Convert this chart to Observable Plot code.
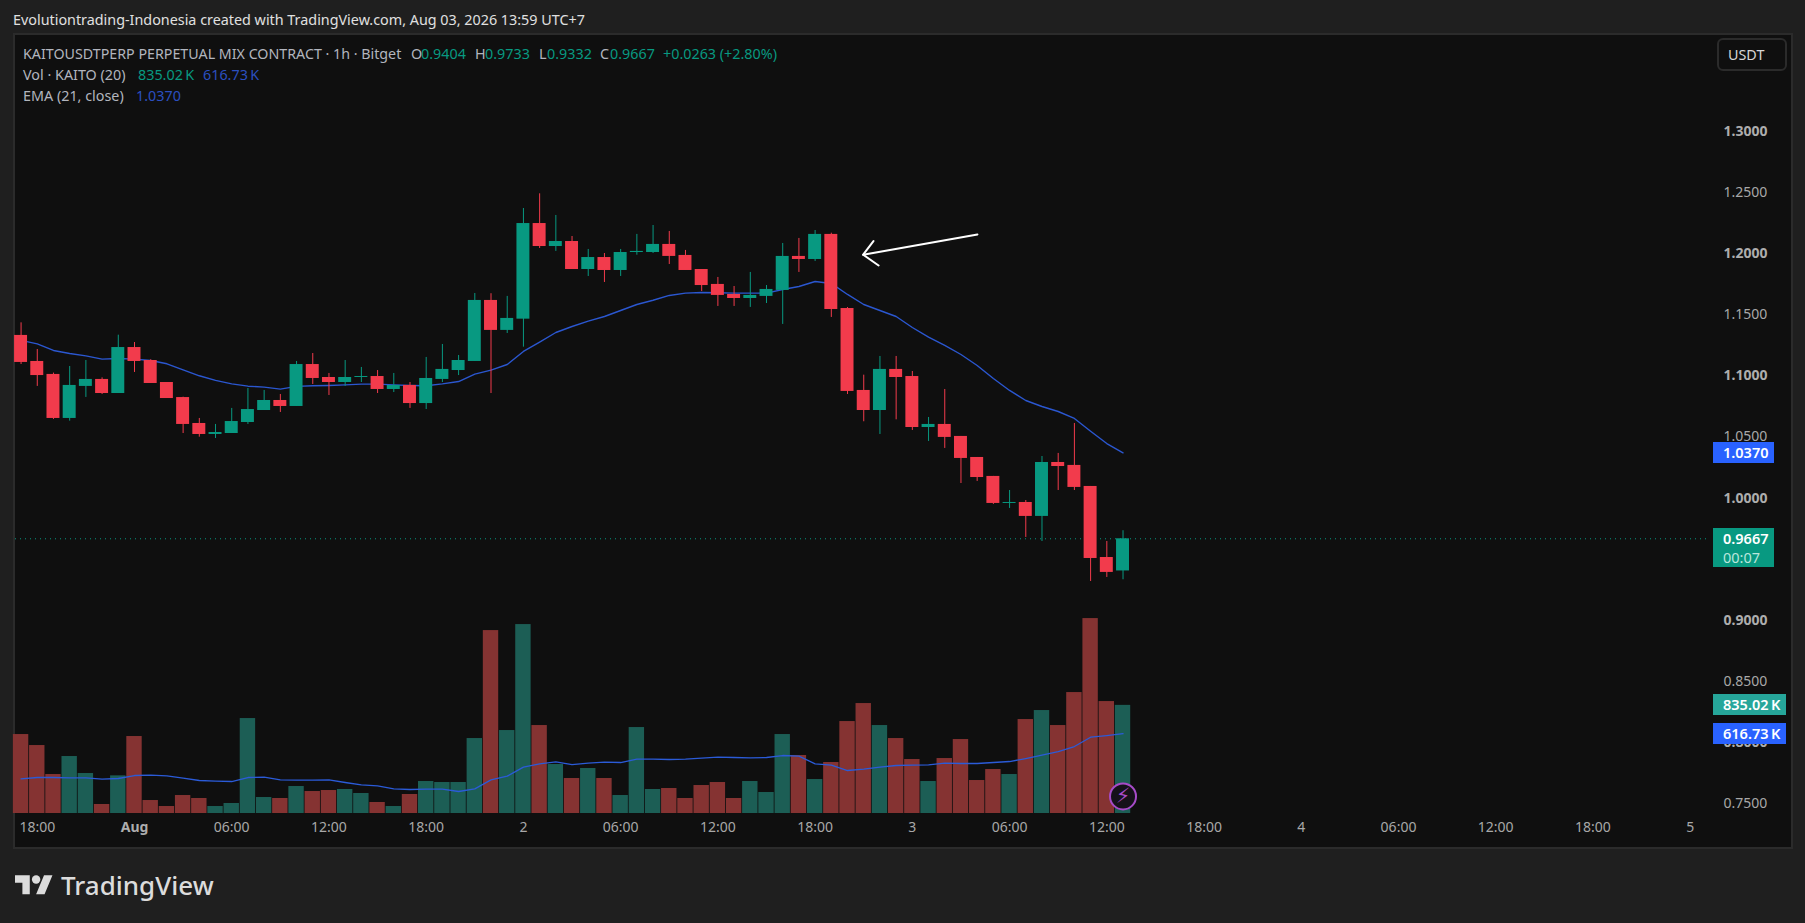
<!DOCTYPE html>
<html>
<head>
<meta charset="utf-8">
<script src="https://cdn.jsdelivr.net/npm/d3@7"></script>
<script src="https://cdn.jsdelivr.net/npm/@observablehq/plot@0.6"></script>
<style>
html,body{margin:0;padding:0;background:#1f1f1f;width:1805px;height:923px;overflow:hidden}
body{position:relative;font-family:"Noto Sans",sans-serif;font-size:14.35px;color:#b2b5be}
#panel{position:absolute;left:13px;top:33px;width:1776px;height:812px;background:#0f0f0f;border:2px solid #2b2b2b}
svg.layer{position:absolute;left:0;top:0;overflow:visible}
.t{position:absolute;white-space:nowrap;line-height:20px;height:20px}
.box{position:absolute;color:#fff;font-weight:600;text-align:left;line-height:21px;padding-left:10px;box-sizing:border-box;font-size:14.5px}
</style>
</head>
<body>
<div id="panel"></div>
<script>
// Hourly candles from 31 Jul 17:00 to 3 Aug 13:00
const firstBar = Date.UTC(2026, 6, 31, 17);
const opens = [1.1330,1.1117,1.1011,1.0651,1.0913,1.0970,1.0855,1.1231,1.1125,1.0945,1.0822,1.0610,1.0520,1.0528,1.0618,1.0716,1.0798,1.0749,1.1092,1.0986,1.0945,1.0986,1.0994,1.0888,1.0921,1.0773,1.0970,1.1043,1.1117,1.1616,1.1371,1.1463,1.2245,1.2057,1.2098,1.1869,1.1967,1.1861,1.2008,1.2008,1.2074,1.1984,1.1869,1.1747,1.1665,1.1632,1.1649,1.1698,1.1976,1.1951,1.2156,1.1550,1.0880,1.0716,1.1052,1.0994,1.0577,1.0602,1.0504,1.0332,1.0177,0.9956,0.9964,0.9850,1.0291,1.0267,1.0095,0.9514,0.9404];
const highs = [1.1433,1.1215,1.1022,1.1076,1.1125,1.0983,1.1332,1.1272,1.1131,1.0945,1.0825,1.0651,1.0602,1.0733,1.0896,1.0880,1.0847,1.1117,1.1182,1.1019,1.1125,1.1068,1.1043,1.1019,1.0945,1.1150,1.1256,1.1166,1.1673,1.1671,1.1649,1.2368,1.2488,1.2311,1.2139,1.2033,1.2000,1.2033,1.2156,1.2229,1.2180,1.2025,1.1869,1.1804,1.1730,1.1845,1.1738,1.2082,1.2123,1.2188,1.2166,1.1558,1.1005,1.1158,1.1158,1.1035,1.0659,1.0888,1.0504,1.0332,1.0177,1.0062,0.9980,1.0340,1.0365,1.0610,1.0095,0.9645,0.9733];
const lows = [1.1092,1.0913,1.0643,1.0629,1.0823,1.0847,1.0855,1.1027,1.0937,1.0814,1.0528,1.0498,1.0487,1.0528,1.0602,1.0716,1.0700,1.0749,1.0929,1.0839,1.0913,1.0945,1.0855,1.0863,1.0733,1.0724,1.0945,1.1002,1.1117,1.0855,1.1346,1.1234,1.2041,1.2017,1.1869,1.1812,1.1763,1.1812,1.1986,1.2000,1.1910,1.1861,1.1689,1.1567,1.1567,1.1559,1.1591,1.1420,1.1845,1.1935,1.1477,1.0847,1.0624,1.0520,1.0640,1.0553,1.0463,1.0406,1.0119,1.0136,0.9948,0.9915,0.9678,0.9645,1.0062,1.0062,0.9318,0.9351,0.9332];
const closes = [1.1109,1.1002,1.0651,1.0921,1.0970,1.0855,1.1231,1.1117,1.0937,1.0814,1.0602,1.0520,1.0536,1.0626,1.0724,1.0798,1.0749,1.1092,1.0978,1.0945,1.0986,1.0994,1.0888,1.0921,1.0773,1.0978,1.1052,1.1125,1.1616,1.1371,1.1469,1.2245,1.2057,1.2098,1.1869,1.1967,1.1861,1.2008,1.2017,1.2074,1.1976,1.1861,1.1738,1.1657,1.1632,1.1657,1.1706,1.1976,1.1951,1.2156,1.1542,1.0872,1.0716,1.1052,1.0986,1.0577,1.0602,1.0496,1.0324,1.0168,0.9956,0.9964,0.9850,1.0291,1.0258,1.0087,0.9506,0.9392,0.9667];
const ema = [1.1289,1.1261,1.1207,1.1182,1.1163,1.1136,1.1141,1.1136,1.1125,1.1098,1.1049,1.1000,1.0962,1.0934,1.0915,1.0907,1.0891,1.0913,1.0918,1.0921,1.0926,1.0932,1.0932,1.0926,1.0921,1.0918,1.0934,1.0953,1.1013,1.1046,1.1092,1.1199,1.1275,1.1354,1.1403,1.1447,1.1485,1.1534,1.1583,1.1618,1.1657,1.1676,1.1681,1.1679,1.1676,1.1676,1.1676,1.1706,1.1730,1.1771,1.1755,1.1665,1.1583,1.1534,1.1485,1.1395,1.1316,1.1248,1.1174,1.1084,1.0978,1.0880,1.0798,1.0749,1.0708,1.0651,1.0547,1.0446,1.0370];
const volumes = [609.8,524.9,301,440,308.8,69.5,290.7,594.4,100.3,54,138.9,115.8,54,77.2,733.3,123.5,115.8,208.4,169.8,177.5,185.3,154.4,84.9,54,146.7,247,239.3,239.3,578.9,1412.6,640.7,1458.9,679.3,378.2,270.2,347.4,270.2,138.9,663.8,185.3,193,115.8,216.1,239.3,115.8,247,162.1,609.8,447.7,262.4,393.7,710.1,849.1,679.3,578.9,416.8,247,424.5,571.2,254.7,339.6,301,725.6,795.1,679.3,934,1505.2,864.5,835.02];
const volumeMA = [267.6,277.9,277.9,275.3,275.3,265,270.2,293.3,295.9,290.7,272.7,254.7,249.6,247,277.9,280.5,259.9,257.3,257.3,259.9,239.3,221.3,213.6,190.4,185.3,187.8,187.8,169.8,190.4,259.9,288.2,357.6,383.4,398.8,378.2,388.5,396.2,393.7,419.4,419.4,416.8,419.4,427.1,434.8,432.3,429.7,432.3,447.7,442.6,383.4,373.1,331.9,342.2,357.6,370.5,373.1,375.7,388.5,386,386,393.7,401.4,424.5,450.3,478.6,517.2,589.2,602.1,616.73];
const priceTicksMajor = [1.3,1.2,1.1,1.0,0.9,0.8];
const priceTicksMinor = [1.25,1.15,1.05,0.85,0.75];
const timeTicks = ["2026-07-31T18:00Z","2026-08-01T06:00Z","2026-08-01T12:00Z","2026-08-01T18:00Z","2026-08-02T00:00Z","2026-08-02T06:00Z","2026-08-02T12:00Z","2026-08-02T18:00Z","2026-08-03T00:00Z","2026-08-03T06:00Z","2026-08-03T12:00Z","2026-08-03T18:00Z","2026-08-04T00:00Z","2026-08-04T06:00Z","2026-08-04T12:00Z","2026-08-04T18:00Z","2026-08-05T00:00Z"].map(s=>new Date(s));
const monthTick = [new Date("2026-08-01T00:00Z")];
const arrowLines = [
  {k:"shaft",t:"2026-08-03T04:01Z",p:1.2156},{k:"shaft",t:"2026-08-02T20:58Z",p:1.1990},
  {k:"head",t:"2026-08-02T21:36Z",p:1.2101},{k:"head",t:"2026-08-02T20:58Z",p:1.1990},{k:"head",t:"2026-08-02T21:55Z",p:1.1902}
].map(d=>({...d,t:new Date(d.t)}));
const lastBadge = [{t:new Date("2026-08-03T13:00Z"),p:0.7560}];

const HOUR = 3600000, GREEN="#089981", RED="#f23b4c", BLUE="#2b57d0";
const bars = opens.map((o,i)=>({t:new Date(firstBar+i*HOUR),o,h:highs[i],l:lows[i],c:closes[i],e:ema[i],v:volumes[i],m:volumeMA[i],up:closes[i]>=o}));
const span = (d,f)=>new Date(+d.t+f*HOUR);
const xOpt = {type:"utc",domain:[new Date("2026-08-01T00:00Z"),new Date("2026-08-05T00:00Z")],range:[134,1689.7]};
const common = {width:1805,height:923,marginLeft:15,marginRight:95,marginTop:35,marginBottom:110,
  style:{background:"transparent",fontFamily:'"Noto Sans",sans-serif',fontSize:"14px",overflow:"visible"}};

const volPlot = Plot.plot({...common,x:{...xOpt,axis:null},
  y:{domain:[0,1000],range:[813,683.5],axis:null},
  marks:[
    Plot.rect(bars,{x1:d=>span(d,-0.475),x2:d=>span(d,0.475),y1:0,y2:"v",fill:d=>d.up?"#1c5e55":"#853332"}),
    Plot.line(bars,{x:"t",y:"m",stroke:"#2b5bd8",strokeWidth:1.3})
  ]});
volPlot.classList.add("layer");
document.body.appendChild(volPlot);

const wf = (d)=>d.toFixed(4);
const pricePlot = Plot.plot({...common,x:xOpt,
  y:{domain:[0.75,1.3],range:[803.3,130.7],axis:null},
  marks:[
    Plot.axisY({anchor:"right",ticks:priceTicksMinor,tickFormat:wf,tickSize:0,tickPadding:13,textAnchor:"start",color:"#a8a8a8",label:null}),
    Plot.axisY({anchor:"right",ticks:priceTicksMajor,tickFormat:wf,tickSize:0,tickPadding:13,textAnchor:"start",color:"#adadad",fontWeight:"bold",label:null}),
    Plot.axisX({ticks:timeTicks,tickFormat:d=>d.getUTCHours()?d3.utcFormat("%H:%M")(d):d3.utcFormat("%-d")(d),tickSize:0,tickPadding:9,color:"#a8a8a8",label:null}),
    Plot.axisX({ticks:monthTick,tickFormat:d3.utcFormat("%b"),tickSize:0,tickPadding:9,color:"#adadad",fontWeight:"bold",label:null}),
    Plot.ruleY([closes[closes.length-1]],{stroke:GREEN,strokeWidth:1,strokeDasharray:"1 4"}),
    Plot.line(bars,{x:"t",y:"e",stroke:BLUE,strokeWidth:1.4}),
    Plot.ruleX(bars,{x:"t",y1:"l",y2:"h",stroke:d=>d.up?GREEN:RED,strokeWidth:1}),
    Plot.rect(bars,{x1:d=>span(d,-0.4),x2:d=>span(d,0.4),y1:"o",y2:"c",fill:d=>d.up?GREEN:RED}),
    Plot.line(arrowLines,{x:"t",y:"p",z:"k",stroke:"#ffffff",strokeWidth:2}),
    Plot.dot(lastBadge,{x:"t",y:"p",r:13,fill:"#15111a",stroke:"#a64bc8",strokeWidth:2}),
    Plot.text(lastBadge,{x:"t",y:"p",text:()=>"\u26A1\uFE0E",fill:"#a64bc8",fontSize:21,fontFamily:"DejaVu Sans"})
  ]});
pricePlot.classList.add("layer");
document.body.appendChild(pricePlot);

const yP = pricePlot.scale("y"), yV = volPlot.scale("y");
function txt(s,x,cy,color,extra){const e=document.createElement("div");e.className="t";e.textContent=s;e.style.left=x+"px";e.style.top=(cy-10)+"px";if(color)e.style.color=color;if(extra)Object.assign(e.style,extra);document.body.appendChild(e);return e}
function box(s,cy,w,bg){const e=document.createElement("div");e.className="box";e.textContent=s;Object.assign(e.style,{left:"1713px",top:(cy-10.5)+"px",width:w+"px",height:"21px",background:bg});document.body.appendChild(e);return e}

txt("Evolutiontrading-Indonesia created with TradingView.com, Aug 03, 2026 13:59 UTC+7",13,20,"#e0e0e0");
const grey="#b2b5be", g=GREEN, b="#2b4fc0";
txt("KAITOUSDTPERP PERPETUAL MIX CONTRACT · 1h · Bitget",23,53.7,grey,{fontSize:"14.25px"});
txt("O",411,53.7,grey);txt("0.9404",421,53.7,g);
txt("H",475,53.7,grey);txt("0.9733",485,53.7,g);
txt("L",539,53.7,grey);txt("0.9332",547,53.7,g);
txt("C",600,53.7,grey);txt("0.9667",610,53.7,g);
txt("+0.0263 (+2.80%)",663,53.7,g);
txt("Vol · KAITO (20)",23,74.7,grey);txt("835.02\u2009K",138,74.7,g);txt("616.73\u2009K",203,74.7,b);
txt("EMA (21, close)",23,96,grey);txt("1.0370",136,96,b);

box("1.0370",yP.apply(ema[ema.length-1]),60.5,"#2962ff");
const cl=box("0.9667",538.3,60.5,GREEN);
cl.style.top="528px";cl.style.height="39px";
txt("00:07",1723,556.7,"#b9e6dc",{fontSize:"14.5px"});
box("835.02\u2009K",yV.apply(volumes[volumes.length-1]),72.5,"#26a69a");
box("616.73\u2009K",yV.apply(volumeMA[volumeMA.length-1]),72.5,"#2962ff");

const u=document.createElement("div");
Object.assign(u.style,{position:"absolute",left:"1717px",top:"38px",width:"70px",height:"33px",border:"2px solid #2b2b2b",borderRadius:"6px",boxSizing:"border-box"});
document.body.appendChild(u);
txt("USDT",1728,55,"#d6d6d6");

const ns="http://www.w3.org/2000/svg";
const logo=document.createElementNS(ns,"svg");
logo.setAttribute("viewBox","0 0 36 28");logo.setAttribute("width","38");logo.setAttribute("height","29.6");
Object.assign(logo.style,{position:"absolute",left:"15px",top:"871px"});
logo.innerHTML='<path fill="#dcdcdc" d="M14 22H7V11H0V4h14v18zM28 22h-8l7.5-18h8L28 22z"/><circle fill="#dcdcdc" cx="20" cy="8" r="4"/>';
document.body.appendChild(logo);
txt("TradingView",61,885,"#dcdcdc",{fontSize:"26px",fontWeight:"500",lineHeight:"30px",height:"30px",marginTop:"-5px"});
</script>
</body>
</html>
